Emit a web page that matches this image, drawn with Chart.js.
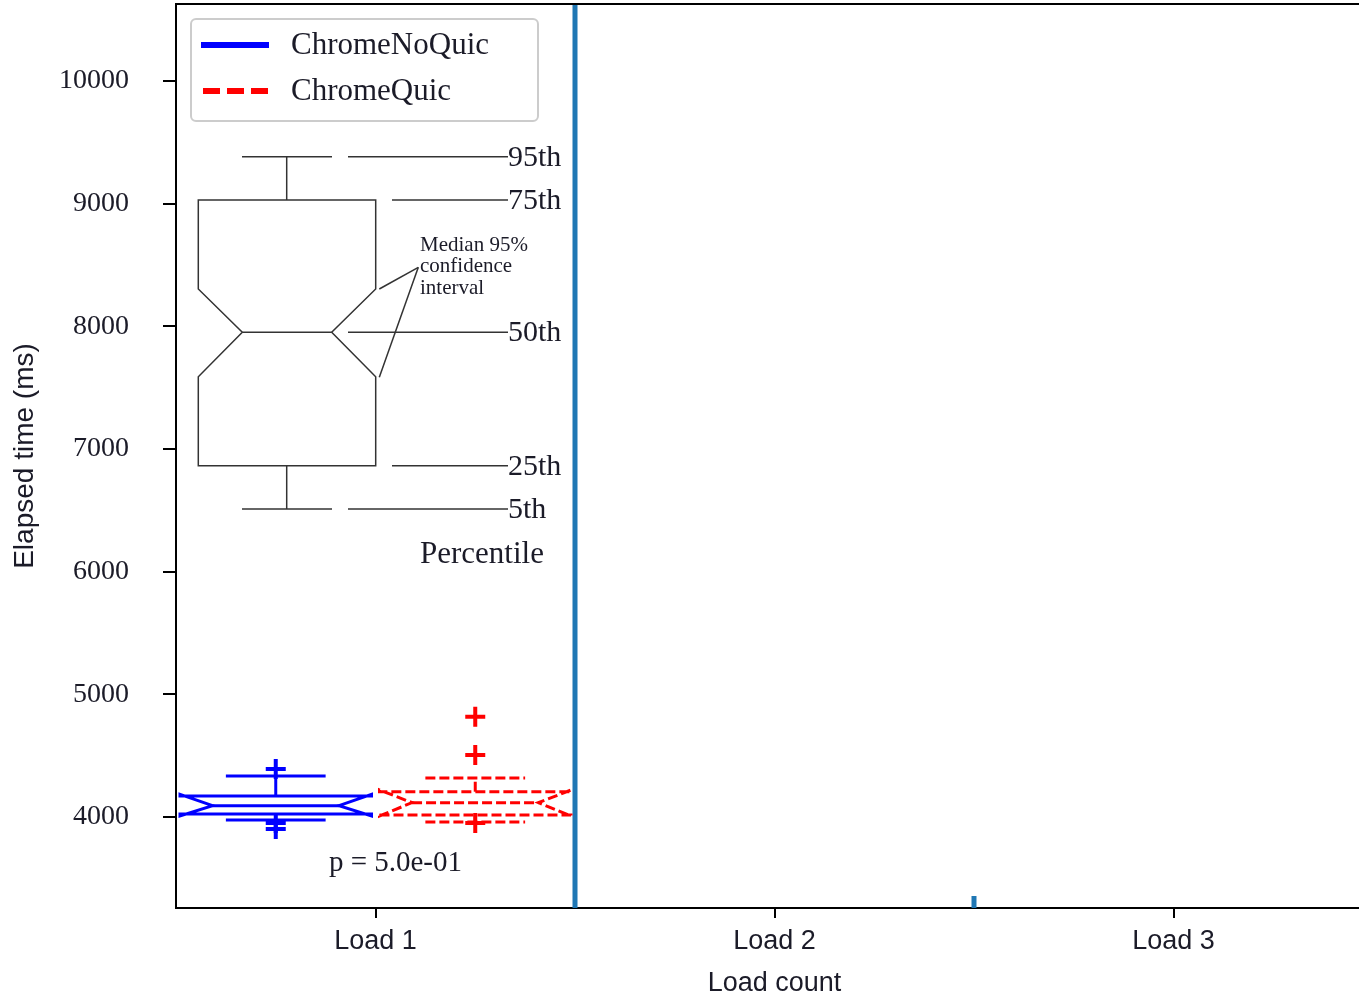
<!DOCTYPE html>
<html>
<head>
<meta charset="utf-8">
<script src="https://cdn.jsdelivr.net/npm/chart.js@4.4.0/dist/chart.umd.min.js"></script>
<style>
  html, body { margin: 0; padding: 0; background: #fff; overflow: hidden; width: 1359px; height: 1000px; }
  canvas { display: block; }
</style>
</head>
<body>
<canvas id="chart" width="1380" height="1000"></canvas>
<script>
// --- data ---
const categories = ['Load 1', 'Load 2', 'Load 3'];
const seriesNames = ['ChromeNoQuic', 'ChromeQuic'];
const seriesColors = ['#0000ff', '#ff0000'];
const yTicks = [4000, 5000, 6000, 7000, 8000, 9000, 10000];
const yRange = [3258, 10628];

// Load 1 stats: whisker low, q1, median, q3, whisker high
const noQuicStats = [3976, 4024, 4092, 4171, 4334];
const noQuicNotch = [4008, 4185];
const noQuicOutliers = [4391, 3951, 3902];
const quicStats = [3959, 4016, 4117, 4206, 4318];
const quicNotch = [4008, 4220];
const quicOutliers = [4818, 4505, 3951];

// blue separator marks
const separatorX = [1.5, 2.5];
const separatorTop = [10628, 3356];
const pValueText = 'p = 5.0e-01';
const pValuePos = [1.05, 3625];

const SERIF = "'Liberation Serif', 'DejaVu Serif', serif";
const SANS = "'Liberation Sans', 'DejaVu Sans', sans-serif";
const TEXT = '#1b1b28';

const boxOffset = 0.25;   // each box sits this far from the category
const boxWidth = 0.48;
const capWidth = 0.25;
const notchInset = 0.17;

const seriesBoxes = [
    { stats: noQuicStats, notch: noQuicNotch, offset: -boxOffset, dash: [] },
    { stats: quicStats, notch: quicNotch, offset: boxOffset, dash: [10, 4] }
];

function line(ctx, x1, y1, x2, y2) {
    ctx.beginPath();
    ctx.moveTo(x1, y1);
    ctx.lineTo(x2, y2);
    ctx.stroke();
}

/**
 * Notched box plots drawn through the chart scales
 */
const boxPlotPlugin = {
    id: 'boxPlot',
    afterDatasetsDraw(chart) {
        const { ctx, scales: { x, y }, chartArea } = chart;
        ctx.save();
        ctx.beginPath();
        ctx.rect(chartArea.left, chartArea.top, chartArea.right - chartArea.left, chartArea.bottom - chartArea.top);
        ctx.clip();
        seriesBoxes.forEach((b, i) => {
            const c = 1 + b.offset;
            const L = x.getPixelForValue(c - boxWidth / 2);
            const R = x.getPixelForValue(c + boxWidth / 2);
            const nl = L + (R - L) * notchInset;
            const nr = R - (R - L) * notchInset;
            const cx = x.getPixelForValue(c);
            const capL = x.getPixelForValue(c - capWidth / 2);
            const capR = x.getPixelForValue(c + capWidth / 2);
            const [wl, q1, md, q3, wh] = b.stats.map(v => y.getPixelForValue(v));
            const cl = y.getPixelForValue(b.notch[0]);
            const ch = y.getPixelForValue(b.notch[1]);

            ctx.strokeStyle = seriesColors[i];
            ctx.lineWidth = 3;
            ctx.setLineDash(b.dash);
            ctx.lineJoin = 'miter';

            ctx.beginPath();
            ctx.moveTo(L, q1);
            ctx.lineTo(R, q1);
            ctx.lineTo(R, cl);
            ctx.lineTo(nr, md);
            ctx.lineTo(R, ch);
            ctx.lineTo(R, q3);
            ctx.lineTo(L, q3);
            ctx.lineTo(L, ch);
            ctx.lineTo(nl, md);
            ctx.lineTo(L, cl);
            ctx.closePath();
            ctx.stroke();

            line(ctx, nl, md, nr, md);
            line(ctx, cx, q3, cx, wh);
            line(ctx, cx, q1, cx, wl);
            line(ctx, capL, wh, capR, wh);
            line(ctx, capL, wl, capR, wl);
        });
        ctx.setLineDash([]);

        // p-value
        ctx.fillStyle = TEXT;
        ctx.font = '29px ' + SERIF;
        ctx.textAlign = 'center';
        ctx.textBaseline = 'middle';
        ctx.fillText(pValueText, x.getPixelForValue(pValuePos[0]), y.getPixelForValue(pValuePos[1]));
        ctx.restore();
    }
};

/**
 * Top frame line, legend and the percentile explanation sketch
 */
const decorPlugin = {
    id: 'decor',
    afterDraw(chart) {
        const { ctx, chartArea } = chart;
        const ox = chartArea.left;
        const oy = chartArea.top;
        ctx.save();

        // top spine
        ctx.strokeStyle = '#000';
        ctx.lineWidth = 2;
        line(ctx, chartArea.left - 1, oy, chartArea.right, oy);

        // legend
        ctx.fillStyle = 'rgba(255,255,255,0.8)';
        ctx.strokeStyle = '#cccccc';
        ctx.lineWidth = 2;
        ctx.beginPath();
        ctx.roundRect(ox + 15, oy + 15, 347, 102, 5);
        ctx.fill();
        ctx.stroke();

        ctx.lineWidth = 6;
        ctx.strokeStyle = seriesColors[0];
        line(ctx, ox + 25, oy + 41, ox + 93, oy + 41);
        ctx.strokeStyle = seriesColors[1];
        ctx.setLineDash([17, 7]);
        line(ctx, ox + 27, oy + 87, ox + 93, oy + 87);
        ctx.setLineDash([]);

        ctx.fillStyle = TEXT;
        ctx.font = '31px ' + SERIF;
        ctx.textAlign = 'left';
        ctx.textBaseline = 'middle';
        ctx.fillText(seriesNames[0], ox + 115, oy + 42);
        ctx.fillText(seriesNames[1], ox + 115, oy + 88);

        // percentile sketch
        ctx.strokeStyle = '#333';
        ctx.lineWidth = 1.5;
        line(ctx, ox + 66, oy + 152.7, ox + 156, oy + 152.7);
        line(ctx, ox + 66, oy + 505, ox + 156, oy + 505);
        line(ctx, ox + 110.7, oy + 152.7, ox + 110.7, oy + 196);
        line(ctx, ox + 110.7, oy + 461.7, ox + 110.7, oy + 505);
        ctx.beginPath();
        ctx.moveTo(ox + 22.3, oy + 196);
        ctx.lineTo(ox + 199.7, oy + 196);
        ctx.lineTo(ox + 199.7, oy + 285);
        ctx.lineTo(ox + 155.7, oy + 328.3);
        ctx.lineTo(ox + 199.7, oy + 372.7);
        ctx.lineTo(ox + 199.7, oy + 461.7);
        ctx.lineTo(ox + 22.3, oy + 461.7);
        ctx.lineTo(ox + 22.3, oy + 372.7);
        ctx.lineTo(ox + 66.3, oy + 328.3);
        ctx.lineTo(ox + 22.3, oy + 285);
        ctx.closePath();
        ctx.stroke();
        line(ctx, ox + 66.3, oy + 328.3, ox + 155.7, oy + 328.3);

        const leaders = [[172, 152.7, '95th'], [216, 196, '75th'], [172, 328.3, '50th'], [216, 461.7, '25th'], [172, 505, '5th']];
        ctx.font = '30px ' + SERIF;
        leaders.forEach(([x0, yy, label]) => {
            line(ctx, ox + x0, oy + yy, ox + 332, oy + yy);
            ctx.fillText(label, ox + 332, oy + yy + 1);
        });
        ctx.font = '31px ' + SERIF;
        ctx.fillText('Percentile', ox + 244, oy + 551);

        ctx.font = '21px ' + SERIF;
        ctx.fillText('Median 95%', ox + 244, oy + 241);
        ctx.fillText('confidence', ox + 244, oy + 262.7);
        ctx.fillText('interval', ox + 244, oy + 284.3);
        line(ctx, ox + 242.3, oy + 263.3, ox + 203.3, oy + 285);
        line(ctx, ox + 242.3, oy + 263.3, ox + 203.3, oy + 373.3);

        ctx.restore();
    }
};

const outlierSets = [noQuicOutliers, quicOutliers].map((vals, i) => ({
    type: 'scatter',
    data: vals.map(v => ({ x: 1 + seriesBoxes[i].offset, y: v })),
    pointStyle: 'cross',
    radius: 10,
    borderWidth: 4,
    borderColor: seriesColors[i],
    backgroundColor: seriesColors[i]
}));

const separatorSets = separatorX.map((sx, i) => ({
    type: 'line',
    data: [{ x: sx, y: yRange[0] }, { x: sx, y: separatorTop[i] }],
    borderColor: '#1f77b4',
    borderWidth: 5,
    pointRadius: 0,
    fill: false
}));

// keep the plot box fixed: no extra room for label overhang
function noPadding(s) {
    s.paddingTop = 0;
    s.paddingBottom = 0;
    s.paddingLeft = 0;
    s.paddingRight = 0;
}

new Chart(document.getElementById('chart'), {
    type: 'scatter',
    data: { datasets: [...separatorSets, ...outlierSets] },
    options: {
        responsive: false,
        animation: false,
        devicePixelRatio: 1,
        layout: { autoPadding: false, padding: { left: 0, top: 4, right: 7, bottom: 0 } },
        plugins: { legend: { display: false }, tooltip: { enabled: false } },
        scales: {
            x: {
                type: 'linear',
                min: 0.5,
                max: 3.5,
                afterBuildTicks: s => { s.ticks = categories.map((c, i) => ({ value: i + 1 })); },
                afterFit: s => { s.height = 92; noPadding(s); },
                ticks: {
                    callback: v => categories[v - 1],
                    color: TEXT,
                    font: { family: SANS, size: 27 },
                    padding: 7,
                    maxRotation: 0
                },
                grid: { drawOnChartArea: false, drawTicks: true, tickLength: 10, tickColor: '#000', lineWidth: 2 },
                border: { display: true, color: '#000', width: 2 },
                title: { display: true, text: 'Load count', color: TEXT, font: { family: SANS, size: 27 }, padding: { top: 0, bottom: 0 } }
            },
            y: {
                type: 'linear',
                min: yRange[0],
                max: yRange[1],
                afterBuildTicks: s => { s.ticks = yTicks.map(v => ({ value: v })); },
                afterFit: s => { s.width = 176; noPadding(s); },
                ticks: {
                    callback: v => String(v),
                    color: TEXT,
                    font: { family: SERIF, size: 28 },
                    padding: 34
                },
                grid: { drawOnChartArea: false, drawTicks: true, tickLength: 13, tickColor: '#000', lineWidth: 2 },
                border: { display: true, color: '#000', width: 2 },
                title: { display: true, text: 'Elapsed time (ms)', color: TEXT, font: { family: SANS, size: 28 }, padding: { top: 8, bottom: 0 } }
            }
        }
    },
    plugins: [boxPlotPlugin, decorPlugin]
});
</script>
</body>
</html>
